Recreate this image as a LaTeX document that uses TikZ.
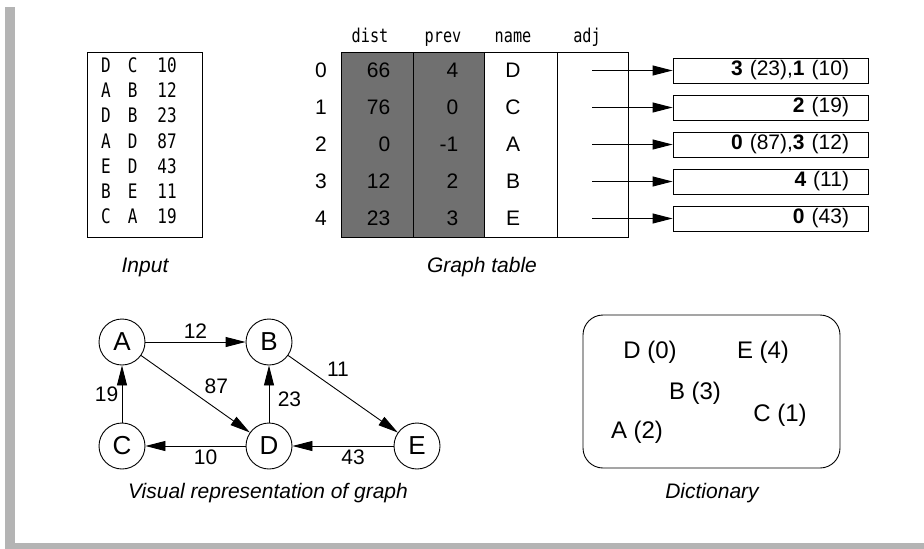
\documentclass[tikz,border=0pt]{standalone}
\usepackage{fontspec}
\setmainfont{Liberation Sans}
\newfontfamily\codefont[FakeStretch=0.8]{DejaVu Sans Mono}
\usepackage{tikz}
\usetikzlibrary{arrows.meta}
\definecolor{cellgray}{RGB}{112,112,112}
\definecolor{framegray}{RGB}{180,180,180}

\begin{document}
\begin{tikzpicture}[x=1pt, y=-1pt, line width=0.9pt,
    every node/.style={font=\fontsize{21}{25}\selectfont},
    arr/.style={-{Triangle[length=20pt,width=10pt]}},
    vertex/.style={draw, circle, minimum size=46pt, inner sep=0pt, font=\fontsize{26}{30}\selectfont},
    listbox/.style={draw, text width=157pt, align=right, inner xsep=19pt, inner ysep=0pt, minimum height=25pt},
    captxt/.style={font=\fontsize{21}{25}\selectfont\itshape},
    colhead/.style={anchor=base, font=\fontsize{19}{22}\selectfont\codefont},
    dictitem/.style={font=\fontsize{24}{28}\selectfont}]
                \useasboundingbox (0,0) rectangle (924,549);
                \fill[framegray] (5,7) rectangle (15,549);
                \fill[framegray] (5,543) rectangle (924,549);

                % input
                \node[draw, minimum width=115pt, minimum height=185pt] (inbox) at (144.5,144.5) {};
                \node[font=\fontsize{20}{25.2}\selectfont\codefont] (intext) at (139,143) {\begin{tabular}{@{}l@{\hspace{17pt}}l@{\hspace{20pt}}l@{}}
                    D & C & 10\\ A & B & 12\\ D & B & 23\\ A & D & 87\\ E & D & 43\\ B & E & 11\\ C & A & 19
                \end{tabular}};
                \node[captxt] (incap) at (145,267) {Input};

                % graph table
                \fill[cellgray] (341,52) rectangle (484,237);
                \draw (341,52) rectangle (628,237);
                \draw (413,52) -- (413,237);
                \draw (484,52) -- (484,237);
                \draw (557,52) -- (557,237);
                \node[colhead] (hdist) at (370,42) {dist};
                \node[colhead] (hprev) at (443,42) {prev};
                \node[colhead] (hname) at (513,42) {name};
                \node[colhead] (hadj) at (587,42) {adj};
                \node (i0) at (321,70.5) {0};
                \node (i1) at (321,107.5) {1};
                \node (i2) at (321,144.5) {2};
                \node (i3) at (321,181.5) {3};
                \node (i4) at (321,218.5) {4};
                \node[anchor=east] (d0) at (394,70.5) {66};
                \node[anchor=east] (d1) at (394,107.5) {76};
                \node[anchor=east] (d2) at (394,144.5) {0};
                \node[anchor=east] (d3) at (394,181.5) {12};
                \node[anchor=east] (d4) at (394,218.5) {23};
                \node[anchor=east] (p0) at (462,70.5) {4};
                \node[anchor=east] (p1) at (462,107.5) {0};
                \node[anchor=east] (p2) at (462,144.5) {-1};
                \node[anchor=east] (p3) at (462,181.5) {2};
                \node[anchor=east] (p4) at (462,218.5) {3};
                \node (n0) at (513,70.5) {D};
                \node (n1) at (513,107.5) {C};
                \node (n2) at (513,144.5) {A};
                \node (n3) at (513,181.5) {B};
                \node (n4) at (513,218.5) {E};
                \coordinate (a0) at (592,70.5);
                \coordinate (a1) at (592,107.5);
                \coordinate (a2) at (592,144.5);
                \coordinate (a3) at (592,181.5);
                \coordinate (a4) at (592,218.5);
                \node[listbox] (l0) at (770.5,70.5) {\textbf{3} (23),\textbf{1} (10)};
                \node[listbox] (l1) at (770.5,107.5) {\textbf{2} (19)};
                \node[listbox] (l2) at (770.5,144.5) {\textbf{0} (87),\textbf{3} (12)};
                \node[listbox] (l3) at (770.5,181.5) {\textbf{4} (11)};
                \node[listbox] (l4) at (770.5,218.5) {\textbf{0} (43)};
                \draw[arr] (a0) -- (l0);
                \draw[arr] (a1) -- (l1);
                \draw[arr] (a2) -- (l2);
                \draw[arr] (a3) -- (l3);
                \draw[arr] (a4) -- (l4);
                \node[captxt] (tabcap) at (482,267) {Graph table};

                % visual graph
                \node[vertex] (A) at (122,342) {A};
                \node[vertex] (B) at (269,342) {B};
                \node[vertex] (C) at (122,446) {C};
                \node[vertex] (D) at (269,446) {D};
                \node[vertex] (E) at (417,446) {E};
                \draw[arr] (A) -- (B) node[midway, above] {12};
                \draw[arr] (A) -- (D) node[pos=0.55, above right] {87};
                \draw[arr] (B) -- (E) node[pos=0.32, above right] {11};
                \draw[arr] (C) -- (A) node[midway, left] {19};
                \draw[arr] (D) -- (B) node[pos=0.4, right=5pt] {23};
                \draw[arr] (D) -- (C) node[pos=0.4, below] {10};
                \draw[arr] (E) -- (D) node[pos=0.4, below] {43};
                \node[captxt] (gcap) at (268,493) {Visual representation of graph};

                % dictionary
                \node[draw, rounded corners=20pt, minimum width=257pt, minimum height=153pt] (dict) at (711.5,391.5) {};
                \node[dictitem] (kD) at (650,352) {D (0)};
                \node[dictitem] (kE) at (763,352) {E (4)};
                \node[dictitem] (kB) at (695,393) {B (3)};
                \node[dictitem] (kC) at (780,415) {C (1)};
                \node[dictitem] (kA) at (637,432) {A (2)};
                \node[captxt] (dcap) at (712,493) {Dictionary};
            \end{tikzpicture}
\end{document}
